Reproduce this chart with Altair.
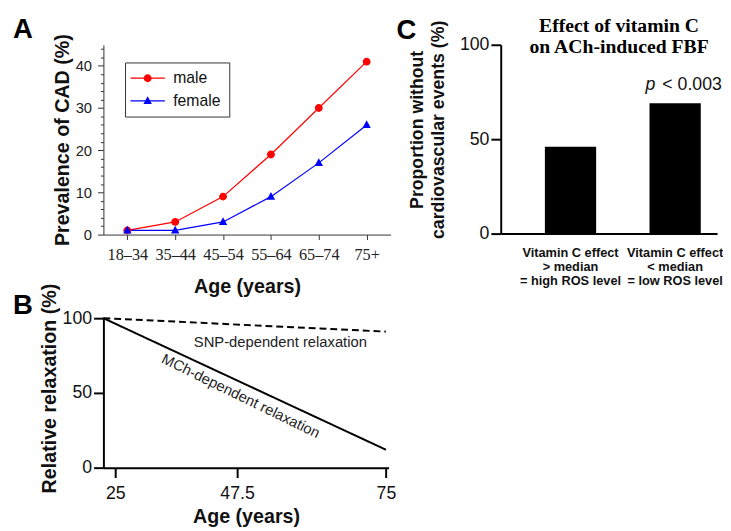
import altair as alt
import pandas as pd

# ---------------- data ----------------
# Panel A: prevalence of CAD by age group
age_groups = ["18–34", "35–44", "45–54", "55–64", "65–74", "75+"]
male_prev = [1, 3, 9, 19, 30, 41]
female_prev = [1, 1, 3, 9, 17, 26]
sexes = ["male", "female"]
a_yticks = [0, 2, 4, 6, 8, 10, 12, 14, 16, 18, 20, 22, 24, 26, 28, 30, 32, 34, 36, 38, 40, 42, 44]

# Panel B: relative relaxation vs age
b_age = [22.8, 75]
snp_relax = [100, 91]
mch_relax = [100, 12]
b_series = ["SNP-dependent relaxation", "MCh-dependent relaxation"]
b_xticks = [25, 47.5, 75]
b_yticks = [0, 50, 100]

# Panel C: proportion without cardiovascular events
c_groups = ["Vitamin C effect\n> median\n= high ROS level",
            "Vitamin C effect\n< median\n= low ROS level"]
c_values = [46, 69]
c_yticks = [0, 50, 100]
c_title = ["Effect of vitamin C", "on ACh-induced FBF"]

SANS = "Liberation Sans"
SERIF = "Liberation Serif"


def letter(t, dx=-92, dy=0):
    return alt.Title(t, anchor="start", frame="group", dx=dx, dy=dy, font=SANS,
                     fontSize=28, fontWeight="bold", color="black")


# ---------------- panel A ----------------
dfA = pd.DataFrame({
    "age": age_groups * 2,
    "sex": [sexes[0]] * len(age_groups) + [sexes[1]] * len(age_groups),
    "prev": male_prev + female_prev,
})

colorA = alt.Scale(domain=sexes, range=["#ff0000", "#0000ff"])
circle_path = "M-0.8,0A0.8,0.8 0 1,1 0.8,0A0.8,0.8 0 1,1 -0.8,0Z"
tri_path = "M0,-0.95L0.85,0.62L-0.85,0.62Z"
shapeA = alt.Scale(domain=sexes, range=[circle_path, tri_path])

leg_common = dict(title=None, orient="none", legendX=22, legendY=18,
                  symbolSize=100, symbolOffset=7, labelOffset=18,
                  labelFont=SANS, labelFontSize=16, labelColor="#111",
                  padding=8, rowPadding=7)
leg_lines = alt.Legend(symbolType="M-3.5,0L3.5,0", symbolStrokeWidth=1.2,
                       strokeColor="#333", **leg_common)
leg_points = alt.Legend(labelOpacity=0, symbolOpacity=1, **leg_common)

xA = alt.X("age:O", sort=age_groups,
           scale=alt.Scale(type="point", padding=0.5),
           axis=alt.Axis(title="Age (years)", labelAngle=0, labelFont=SERIF,
                         labelFontSize=16.5, labelColor="#222", labelPadding=7,
                         tickSize=5, tickColor="#333", domainColor="#333",
                         titleFont=SANS, titleFontSize=20, titleFontWeight="bold",
                         titleColor="#111", titlePadding=14))
yA = alt.Y("prev:Q", scale=alt.Scale(domain=[0, 45], nice=False),
           axis=alt.Axis(title="Prevalence of CAD (%)", values=a_yticks,
                         labelExpr="datum.value % 10 === 0 ? datum.label : ''",
                         labelOverlap=False, labelFont=SANS, labelFontSize=15,
                         labelColor="#222", labelPadding=6,
                         tickSize={"condition": {"test": "datum.value % 10 === 0", "value": 6}, "value": 3},
                         tickColor="#333", domainColor="#333",
                         titleFont=SANS, titleFontSize=20, titleFontWeight="bold",
                         titleColor="#111", titlePadding=3))

linesA = alt.Chart(dfA).mark_line(strokeWidth=1.2).encode(
    x=xA, y=yA, color=alt.Color("sex:N", scale=colorA, legend=leg_lines),
)
pointsA = alt.Chart(dfA).mark_point(filled=True, size=100, opacity=1).encode(
    x=xA, y=yA,
    color=alt.Color("sex:N", scale=colorA, legend=leg_points),
    shape=alt.Shape("sex:N", scale=shapeA, legend=leg_points),
)
chartA = alt.layer(linesA, pointsA).resolve_legend(
    color="independent", shape="independent"
).properties(width=292, height=193, title=letter("A", dy=14))

# ---------------- panel B ----------------
dfB = pd.DataFrame({
    "age": b_age * 2,
    "relax": snp_relax + mch_relax,
    "series": [b_series[0]] * 2 + [b_series[1]] * 2,
})
xB = alt.X("age:Q", scale=alt.Scale(domain=[22.8, 75.5], nice=False, zero=False),
           axis=alt.Axis(title="Age (years)", values=b_xticks, labelExpr="'' + datum.value",
                         labelFont=SANS, labelFontSize=18, labelColor="#111",
                         labelPadding=7, tickSize=10, tickWidth=2, tickColor="black",
                         domainWidth=2, domainColor="black",
                         titleFont=SANS, titleFontSize=20, titleFontWeight="bold",
                         titleColor="#111", titlePadding=5))
yB = alt.Y("relax:Q", scale=alt.Scale(domain=[0, 100], nice=False),
           axis=alt.Axis(title="Relative relaxation (%)", values=b_yticks,
                         labelFont=SANS, labelFontSize=18, labelColor="#111",
                         labelPadding=2, tickSize=10, tickWidth=2, tickColor="black",
                         domainWidth=2, domainColor="black",
                         titleFont=SANS, titleFontSize=20, titleFontWeight="bold",
                         titleColor="#111", titlePadding=3, titleY=71))
linesB = alt.Chart(dfB).mark_line(color="black", strokeWidth=2).encode(
    x=xB, y=yB,
    strokeDash=alt.StrokeDash("series:N", scale=alt.Scale(domain=b_series, range=[[7, 4], [1, 0]]),
                              legend=None),
)
snp_label = alt.Chart().mark_text(font=SANS, fontSize=15, color="#222", align="center",
                                  baseline="alphabetic").encode(
    x=alt.X(datum=55.5), y=alt.Y(datum=81), text=alt.value(b_series[0]))
mch_label = alt.Chart().mark_text(font=SANS, fontSize=15, color="#222", align="center",
                                  baseline="middle", angle=26).encode(
    x=alt.X(datum=48.2), y=alt.Y(datum=48), text=alt.value(b_series[1]))
chartB = alt.layer(linesB, snp_label, mch_label).properties(
    width=290, height=152, title=letter("B", dy=41))

# ---------------- panel C ----------------
dfC = pd.DataFrame({"group": c_groups, "value": c_values})
xC = alt.X("group:N", sort=c_groups,
           scale=alt.Scale(paddingInner=0.51, paddingOuter=0.289, align=0.73),
           axis=alt.Axis(title=None, labelAngle=0, labelExpr="split(datum.label, '\\n')",
                         labelFont=SANS, labelFontSize=13, labelFontWeight="bold",
                         labelColor="#111", labelLineHeight=14.5, labelPadding=13,
                         labelOverlap=False, ticks=False,
                         domainWidth=2, domainColor="black"))
yC = alt.Y("value:Q", scale=alt.Scale(domain=[0, 100], nice=False),
           axis=alt.Axis(title=["Proportion without", "cardiovascular events (%)"],
                         values=c_yticks, labelFont=SANS, labelFontSize=18,
                         labelColor="#111", labelPadding=2, tickSize=10, tickWidth=2,
                         tickColor="black", domainWidth=2, domainColor="black",
                         titleFont=SANS, titleFontSize=18, titleFontWeight="bold",
                         titleColor="#111", titlePadding=12, titleLineHeight=21,
                         titleY=86))
barsC = alt.Chart(dfC).mark_bar(color="black").encode(x=xC, y=yC)
p_italic = alt.Chart().mark_text(font=SANS, fontSize=18, fontStyle="italic", color="#111",
                                 align="right", dx=-20, baseline="alphabetic").encode(
    x=alt.X(datum=c_groups[1]), y=alt.Y(datum=76), text=alt.value("p"))
p_rest = alt.Chart().mark_text(font=SANS, fontSize=18, color="#111",
                               align="left", dx=-13, baseline="alphabetic").encode(
    x=alt.X(datum=c_groups[1]), y=alt.Y(datum=76), text=alt.value("< 0.003"))
title_C = alt.Chart().mark_text(font=SERIF, fontSize=20, fontWeight="bold", color="black",
                                align="center", baseline="alphabetic", lineHeight=21,
                                dx=-57).encode(
    x=alt.X(datum=c_groups[1]), y=alt.Y(datum=106.5), text=alt.value(c_title))
chartC = alt.layer(barsC, p_italic, p_rest, title_C).properties(
    width=220, height=192, title=letter("C", dx=-106, dy=33))

chart = alt.concat(chartA, chartC, chartB, columns=2, bounds="flush",
                   spacing={"row": 85, "column": 112}).properties(
    padding={"left": 5, "top": 3, "right": 0, "bottom": 0}
).configure_view(stroke=None).configure_axis(grid=False)

chart.save("out.html", embed_options={"renderer": "svg", "actions": False})
